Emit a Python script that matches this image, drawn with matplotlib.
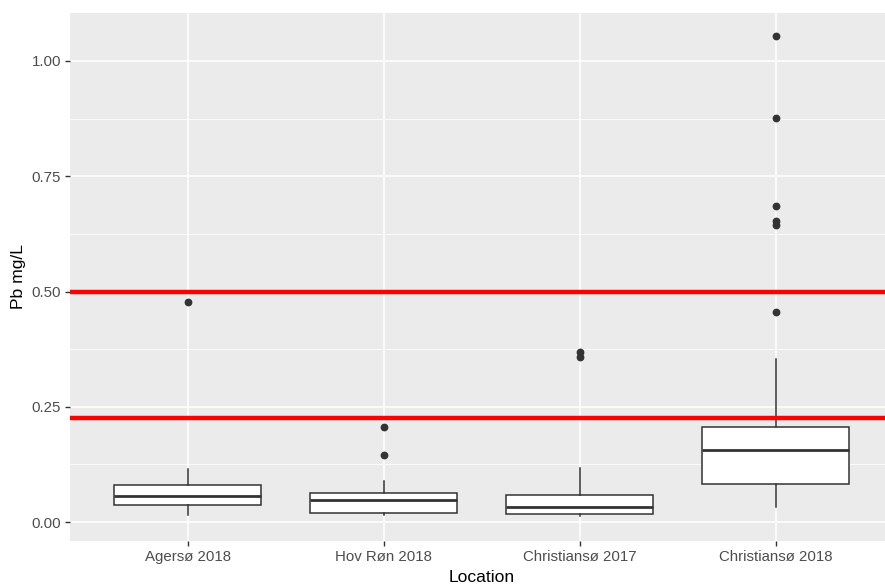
import matplotlib
matplotlib.use("Agg")
import matplotlib.pyplot as plt
from matplotlib.ticker import MultipleLocator

plt.rcParams['font.family'] = ['Liberation Sans', 'DejaVu Sans']

locations = ["Agersø 2018", "Hov Røn 2018", "Christiansø 2017", "Christiansø 2018"]
whisker_low = [0.0145, 0.016, 0.013, 0.033]
q1 = [0.036, 0.020, 0.018, 0.082]
median = [0.057, 0.048, 0.0325, 0.1555]
q3 = [0.0796, 0.0636, 0.058, 0.207]
whisker_high = [0.114, 0.088, 0.117, 0.354]
outliers = [
    [0.478],
    [0.206, 0.146],
    [0.369, 0.357],
    [1.054, 0.877, 0.685, 0.652, 0.645, 0.4555],
]
limits = [0.5, 0.225]

fig = plt.figure(figsize=(8.85, 5.86), dpi=100)
W, H = 885, 586
left, right, top, bottom = 70, 893.6, 13, 541
ax = fig.add_axes([left / W, 1 - bottom / H, (right - left) / W, (bottom - top) / H])
ax.set_facecolor("#EBEBEB")
for s in ax.spines.values():
    s.set_visible(False)

stats = []
for i, name in enumerate(locations):
    stats.append(dict(label=name, whislo=whisker_low[i], q1=q1[i], med=median[i],
                      q3=q3[i], whishi=whisker_high[i], fliers=outliers[i]))

positions = list(range(1, len(locations) + 1))
ax.bxp(stats, positions=positions, widths=0.75, patch_artist=True, showcaps=False,
       boxprops=dict(facecolor="white", edgecolor="#333333", linewidth=1.1),
       medianprops=dict(color="#333333", linewidth=2.0),
       whiskerprops=dict(color="#333333", linewidth=1.1),
       flierprops=dict(marker="o", markerfacecolor="#333333", markeredgecolor="#333333",
                       markersize=4.6, linestyle="none"),
       zorder=3)

for y in limits:
    ax.axhline(y, color="#FF0000", linewidth=3.2, zorder=4)

ymin = (522 - bottom) / 461
ymax = (522 - top) / 461
ax.set_ylim(ymin, ymax)
ax.set_xlim(0.4, 4.6)
ax.yaxis.set_minor_locator(MultipleLocator(0.125))
ax.set_yticks([0, 0.25, 0.5, 0.75, 1.0])
ax.set_yticklabels(["0.00", "0.25", "0.50", "0.75", "1.00"])
ax.set_xticks(positions)
ax.set_xticklabels(locations)

ax.grid(which="major", color="white", linewidth=1.1, zorder=0)
ax.grid(which="minor", axis="y", color="white", linewidth=0.55, zorder=0)
ax.set_axisbelow(True)

ax.tick_params(axis="both", which="major", length=3.5, width=1.0, color="#333333",
               labelcolor="#4D4D4D", labelsize=10.8, pad=3)
ax.tick_params(axis="y", which="minor", length=0)

ax.set_xlabel("Location", fontsize=12.6, color="black", labelpad=4)
ax.set_ylabel("Pb mg/L", fontsize=12.6, color="black", labelpad=4)

fig.savefig("out.png", dpi=100)
